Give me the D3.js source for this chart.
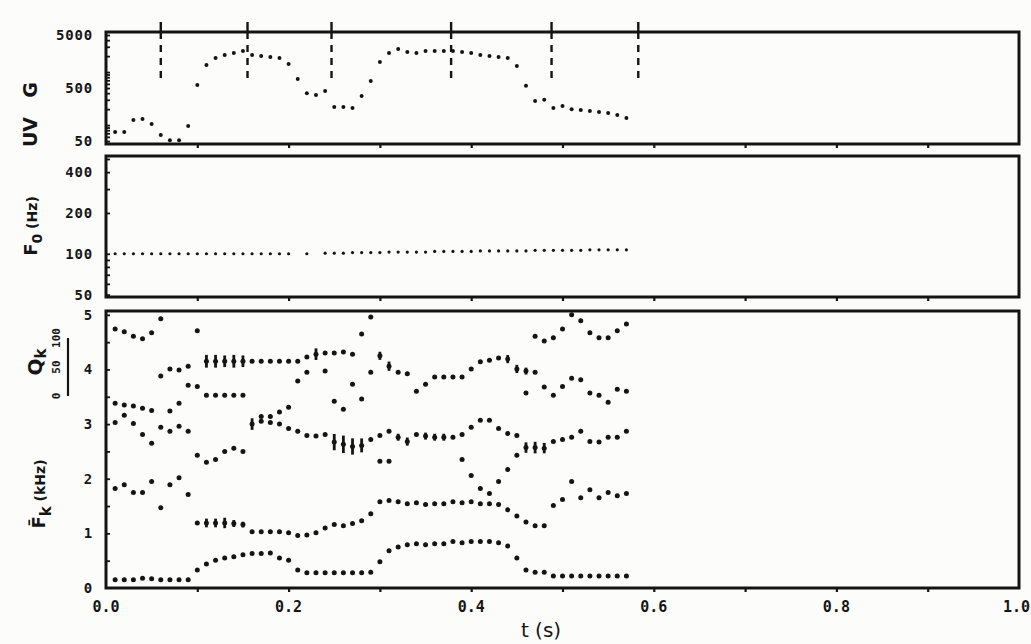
<!DOCTYPE html>
<html>
<head>
<meta charset="utf-8">
<script src="https://cdn.jsdelivr.net/npm/d3@7"></script>
<style>
  body { margin: 0; background: #fcfcfa; }
  svg { display: block; }
  .tick-lbl { font-family: "DejaVu Sans Mono", monospace; font-weight: bold; fill: #151515; }
  .title { font-family: "DejaVu Sans", sans-serif; fill: #151515; }
</style>
</head>
<body>
<div id="chart"></div>
<script>
// --- data -----------------------------------------------------------------
// frame times (s) for the gain panel
const gTimes = [0.01,0.02,0.03,0.04,0.05,0.06,0.07,0.08,0.09,0.10,0.11,0.12,0.13,0.14,0.15,0.16,0.17,0.18,0.19,0.20,
  0.21,0.22,0.23,0.24,0.25,0.26,0.27,0.28,0.29,0.30,0.31,0.32,0.33,0.34,0.35,0.36,0.37,0.38,0.39,0.40,
  0.41,0.42,0.43,0.44,0.45,0.46,0.47,0.48,0.49,0.50,0.51,0.52,0.53,0.54,0.55,0.56,0.57];
const gValues = [74,74,125,130,105,65,52,52,96,570,1360,1850,2100,2290,2500,2100,2010,1930,1850,1420,
  740,400,370,440,220,220,210,354,680,1550,2290,2730,2390,2290,2500,2500,2500,2500,2390,2290,
  2100,2010,1930,1850,1300,550,285,300,210,230,200,193,185,177,169,155,136];

// segment boundaries (dashed lines in the top panel)
const boundaries = [0.060, 0.155, 0.247, 0.378, 0.488, 0.583];

// fundamental frequency
const f0Times = [0.01,0.02,0.03,0.04,0.05,0.06,0.07,0.08,0.09,0.10,0.11,0.12,0.13,0.14,0.15,0.16,0.17,0.18,0.19,0.20,
  0.22,
  0.24,0.25,0.26,0.27,0.28,0.29,0.30,0.31,0.32,0.33,0.34,0.35,0.36,0.37,0.38,0.39,0.40,
  0.41,0.42,0.43,0.44,0.45,0.46,0.47,0.48,0.49,0.50,0.51,0.52,0.53,0.54,0.55,0.56,0.57];
const f0Values = [100,100,100,100,100,100,100,100,100,100,100,100,100,100,100,100,100,100,100,100,
  100,
  101,101,101,102,102,102,102,103,103,103,103,103,104,104,104,104,104,
  105,105,105,105,105,105,106,106,106,106,106,106,107,107,107,107,107];

// formant tracks: [t (s), F (kHz), Q (bar length, optional)]
const f1Track = [[0.01,0.15],[0.02,0.15],[0.03,0.15],[0.04,0.18],[0.05,0.17],[0.06,0.15],[0.07,0.15],[0.08,0.15],[0.09,0.15],
  [0.10,0.33],[0.11,0.44],[0.12,0.51],[0.13,0.55],[0.14,0.57],[0.15,0.61],[0.16,0.63],[0.17,0.63],[0.18,0.64],[0.19,0.55],[0.20,0.51],
  [0.21,0.33],[0.22,0.28],[0.23,0.28],[0.24,0.28],[0.25,0.28],[0.26,0.28],[0.27,0.28],[0.28,0.28],[0.29,0.29],
  [0.30,0.48],[0.31,0.68],[0.32,0.75],[0.33,0.79],[0.34,0.81],[0.35,0.79],[0.36,0.81],[0.37,0.81],[0.38,0.85],[0.39,0.83],[0.40,0.85],
  [0.41,0.85],[0.42,0.85],[0.43,0.83],[0.44,0.77],[0.45,0.55],[0.46,0.33],[0.47,0.29],[0.48,0.29],
  [0.49,0.22],[0.50,0.22],[0.51,0.22],[0.52,0.22],[0.53,0.22],[0.54,0.22],[0.55,0.22],[0.56,0.22],[0.57,0.22]];
const f2Track = [[0.01,1.82],[0.02,1.89],[0.03,1.75],[0.04,1.75],[0.05,1.95],[0.06,1.47],[0.07,1.89],[0.08,2.02],[0.09,1.71],
  [0.10,1.19],[0.11,1.19,15],[0.12,1.19,15],[0.13,1.19,18],[0.14,1.18,12],[0.15,1.16,10],
  [0.16,1.03],[0.17,1.03],[0.18,1.03],[0.19,1.03],[0.20,1.01],[0.21,0.96],[0.22,0.97],[0.23,1.01],[0.24,1.10],[0.25,1.16],
  [0.26,1.14],[0.27,1.18],[0.28,1.23],[0.29,1.36],[0.30,1.58],[0.31,1.60],[0.32,1.58],[0.33,1.54],[0.34,1.56],[0.35,1.53],
  [0.36,1.54],[0.37,1.54],[0.38,1.58],[0.39,1.56],[0.40,1.58],[0.41,1.54],[0.42,1.54],[0.43,1.53],[0.44,1.43],[0.45,1.32],
  [0.46,1.21],[0.47,1.14],[0.48,1.14],[0.49,1.51],[0.50,1.62],[0.51,1.95],[0.52,1.65],[0.53,1.80],[0.54,1.65],[0.55,1.75],
  [0.56,1.69],[0.57,1.73]];
const f3Track = [[0.01,3.03],[0.02,3.16],[0.03,3.01],[0.04,2.81],[0.05,2.65],[0.06,2.94],[0.07,2.87],[0.08,2.96],[0.09,2.87],
  [0.10,2.43],[0.11,2.30],[0.12,2.35],[0.13,2.50],[0.14,2.56],[0.15,2.50],
  [0.16,3.00,20],[0.17,3.05],[0.18,3.03],[0.19,3.00],[0.20,2.92],[0.21,2.87],[0.22,2.79],[0.23,2.78],[0.24,2.81],
  [0.25,2.67,28],[0.26,2.63,30],[0.27,2.59,28],[0.28,2.61,24],[0.29,2.72],[0.30,2.79],[0.31,2.87],[0.32,2.76,12],
  [0.33,2.68,14],[0.34,2.81],[0.35,2.78,12],[0.36,2.76,12],[0.37,2.76,12],[0.38,2.76],[0.39,2.81],[0.40,2.94],
  [0.41,3.07],[0.42,3.07],[0.43,2.92],[0.44,2.83],[0.45,2.79],[0.46,2.57,18],[0.47,2.57,20],[0.48,2.56,18],
  [0.49,2.68],[0.50,2.72],[0.51,2.76],[0.52,2.87],[0.53,2.68],[0.54,2.67],[0.55,2.76],[0.56,2.76],[0.57,2.87]];
const f4Track = [[0.06,3.88],[0.07,4.01],[0.08,3.99],[0.09,4.06],
  [0.11,4.15,22],[0.12,4.15,22],[0.13,4.15,20],[0.14,4.15,22],[0.15,4.15,20],[0.16,4.15],[0.17,4.15],[0.18,4.15],
  [0.19,4.15],[0.20,4.15],[0.21,4.15],[0.22,4.23],[0.23,4.28,20],[0.24,4.30],[0.25,4.30],[0.26,4.32],[0.27,4.28],
  [0.28,4.65],[0.29,4.96],[0.30,4.25,14],[0.31,4.06,16],[0.32,3.95],[0.33,3.92],[0.34,3.60],[0.35,3.73],[0.36,3.86],
  [0.37,3.86],[0.38,3.86],[0.39,3.86],[0.40,4.01],[0.41,4.14],[0.42,4.17],[0.43,4.21],[0.44,4.19,14],[0.45,4.01,14],
  [0.46,3.97,12],[0.47,3.95]];
const f5Track = [[0.01,4.74],[0.02,4.69],[0.03,4.61],[0.04,4.56],[0.05,4.67],[0.06,4.93],[0.10,4.71],
  [0.47,4.61],[0.48,4.52],[0.49,4.58],[0.50,4.74],[0.51,5.00],[0.52,4.89],[0.53,4.67],[0.54,4.58],[0.55,4.58],
  [0.56,4.71],[0.57,4.83]];
const extraPoints = [[0.01,3.38],[0.02,3.35],[0.03,3.33],[0.04,3.29],[0.05,3.25],[0.07,3.24],[0.08,3.38],
  [0.09,3.71],[0.10,3.69],[0.11,3.53],[0.12,3.53],[0.13,3.53],[0.14,3.53],[0.15,3.53],
  [0.17,3.14],[0.18,3.14],[0.19,3.22],[0.20,3.31],[0.21,3.79],[0.22,3.95],[0.24,3.97],[0.25,3.42],[0.26,3.27],
  [0.27,3.73],[0.28,3.46],[0.29,3.95],[0.30,2.32],[0.31,2.32],
  [0.39,2.35],[0.40,2.06],[0.41,1.82],[0.42,1.73],[0.43,1.95],[0.44,2.17],[0.45,2.43],
  [0.46,3.57],[0.48,3.68],[0.49,3.53],[0.50,3.69],[0.51,3.84],[0.52,3.81],[0.53,3.57],[0.54,3.53],[0.55,3.40],
  [0.56,3.64],[0.57,3.60]];

// tick labels
const xTickLabels = [0, 0.2, 0.4, 0.6, 0.8, 1.0];
const gTickLabels = [50, 500, 5000];
const f0TickLabels = [50, 100, 200, 400];
const fTickLabels = [0, 1, 2, 3, 4, 5];
const qScaleLabels = [0, 50, 100];

// --- layout ----------------------------------------------------------------
const W = 1031, H = 644;
const left = 106, right = 1019;
const pG  = { top: 32,  bottom: 144 };
const pF0 = { top: 156, bottom: 297 };
const pF  = { top: 311, bottom: 588 };
const ink = "#141414";

const svg = d3.select("#chart").append("svg")
  .attr("width", W).attr("height", H);

const x = d3.scaleLinear().domain([0, 1]).range([left, right]);
const yG = d3.scaleLog().domain([44, 5700]).range([pG.bottom, pG.top]);
const yF0 = d3.scaleLog().domain([48, 526]).range([pF0.bottom, pF0.top]);
const yF = d3.scaleLinear().domain([0, 5.07]).range([pF.bottom, pF.top]);
const qLen = d3.scaleLinear().domain([0, 100]).range([0, 58]);

const g = svg.append("g");

// panel frames
[pG, pF0, pF].forEach(p => {
  g.append("rect")
    .attr("x", left).attr("y", p.top)
    .attr("width", right - left).attr("height", p.bottom - p.top)
    .attr("fill", "none").attr("stroke", ink).attr("stroke-width", 3);
  // minor time ticks on bottom edge
  g.append("g")
    .attr("transform", `translate(0,${p.bottom})`)
    .call(d3.axisBottom(x).tickValues(d3.range(0.1, 1, 0.1)).tickSize(4).tickFormat(""))
    .call(a => a.select(".domain").remove())
    .call(a => a.selectAll("line").attr("stroke", ink).attr("stroke-width", 2.2));
});

// left axes with inward minor ticks
function leftAxis(scale, vals, labels) {
  g.append("g").attr("transform", `translate(${left},0)`)
    .call(d3.axisRight(scale).tickValues(vals).tickSize(4).tickFormat(""))
    .call(a => a.select(".domain").remove())
    .call(a => a.selectAll("line").attr("stroke", ink).attr("stroke-width", 1.8));
  g.append("g").selectAll("text").data(labels).join("text")
    .attr("class", "tick-lbl")
    .attr("x", 93).attr("y", d => scale(d))
    .attr("dy", "0.36em")
    .attr("text-anchor", "end")
    .style("font-size", "14px").style("letter-spacing", "0.8px")
    .text(d => d);
}
function logMinor(lo, hi) {
  const out = [];
  for (let dec = 10; dec <= 10000; dec *= 10)
    for (let m = 1; m < 10; m++) { const v = dec * m; if (v >= lo && v <= hi) out.push(v); }
  return out;
}
leftAxis(yG, logMinor(50, 5600), gTickLabels);
leftAxis(yF0, logMinor(50, 520), f0TickLabels);
leftAxis(yF, d3.range(0.5, 5.01, 0.5), fTickLabels);

// x tick labels (the last one sits on the page edge)
g.append("g").selectAll("text").data(xTickLabels).join("text")
  .attr("class", "tick-lbl")
  .attr("x", d => d === 1 ? W - 1 : x(d)).attr("y", 612)
  .attr("text-anchor", d => d === 1 ? "end" : "middle")
  .style("font-size", "15px")
  .text(d => d3.format(".1f")(d));

// segment boundaries
const bnd = g.append("g");
bnd.selectAll("line.tk").data(boundaries).join("line")
  .attr("class", "tk")
  .attr("x1", d => x(d)).attr("x2", d => x(d))
  .attr("y1", pG.top - 10).attr("y2", pG.top + 7)
  .attr("stroke", ink).attr("stroke-width", 2.4);
bnd.selectAll("line.ds").data(boundaries).join("line")
  .attr("class", "ds")
  .attr("x1", d => x(d)).attr("x2", d => x(d))
  .attr("y1", pG.top + 13).attr("y2", pG.top + 48)
  .attr("stroke", ink).attr("stroke-width", 2.4)
  .attr("stroke-dasharray", "7,6");

// gain dots
g.append("g").selectAll("circle").data(gTimes).join("circle")
  .attr("cx", d => x(d)).attr("cy", (d, i) => yG(gValues[i]))
  .attr("r", 2).attr("fill", ink);

// F0 dots
g.append("g").selectAll("circle").data(f0Times).join("circle")
  .attr("cx", d => x(d)).attr("cy", (d, i) => yF0(f0Values[i]))
  .attr("r", 1.6).attr("fill", ink);

// formant dots and Q bars
const tracks = [f1Track, f2Track, f3Track, f4Track, f5Track, extraPoints];
const fg = g.append("g");
tracks.forEach(tr => {
  fg.append("g").selectAll("circle").data(tr).join("circle")
    .attr("cx", d => x(d[0])).attr("cy", d => yF(d[1]))
    .attr("r", 2.5).attr("fill", ink);
  fg.append("g").selectAll("line").data(tr.filter(d => d[2])).join("line")
    .attr("x1", d => x(d[0])).attr("x2", d => x(d[0]))
    .attr("y1", d => yF(d[1]) - qLen(d[2]) / 2)
    .attr("y2", d => yF(d[1]) + qLen(d[2]) / 2)
    .attr("stroke", ink).attr("stroke-width", 2.8);
});

// --- axis titles ---------------------------------------------------------
function vText(cx, cy, size, txt) {
  return g.append("text").attr("class", "title")
    .attr("transform", `translate(${cx},${cy}) rotate(-90)`)
    .attr("text-anchor", "middle")
    .style("font-size", size + "px")
    .style("font-weight", "bold")
    .text(txt);
}
vText(37, 90, 19, "G");
vText(37, 132, 19, "UV");

// F0 (Hz)
const f0t = g.append("text").attr("class", "title")
  .attr("transform", "translate(37,226) rotate(-90)")
  .attr("text-anchor", "middle").style("font-size", "18px").style("font-weight", "bold");
f0t.append("tspan").text("F");
f0t.append("tspan").attr("dy", 5).style("font-size", "14px").text("0");
f0t.append("tspan").attr("dy", -5).style("font-size", "14px").text(" (Hz)");

// Qk with scale bar
const qt = g.append("text").attr("class", "title")
  .attr("transform", "translate(42,362) rotate(-90)")
  .attr("text-anchor", "middle").style("font-size", "20px").style("font-weight", "bold");
qt.append("tspan").text("Q");
qt.append("tspan").attr("dy", 4).style("font-size", "15px").text("k");

const qy = d3.scaleLinear().domain([0, 100]).range([396, 338]);
g.append("line").attr("x1", 68).attr("x2", 68)
  .attr("y1", qy(0)).attr("y2", qy(100))
  .attr("stroke", ink).attr("stroke-width", 2.2);
g.append("g").selectAll("text").data(qScaleLabels).join("text")
  .attr("class", "tick-lbl")
  .attr("transform", d => `translate(60,${qy(d)}) rotate(-90)`)
  .attr("text-anchor", "middle")
  .style("font-size", "11px")
  .text(d => d);

// F̄k (kHz)
const fk = g.append("text").attr("class", "title")
  .attr("transform", "translate(45,494) rotate(-90)")
  .attr("text-anchor", "middle").style("font-size", "18px").style("font-weight", "bold");
fk.append("tspan").text("F\u0304");
fk.append("tspan").attr("dy", 6).style("font-size", "15px").text("k");
fk.append("tspan").attr("dy", -6).style("font-size", "14px").text(" (kHz)");

// x title
g.append("text").attr("class", "title")
  .attr("x", 541).attr("y", 637)
  .attr("text-anchor", "middle").style("font-size", "20px")
  .text("t (s)");
</script>
</body>
</html>
